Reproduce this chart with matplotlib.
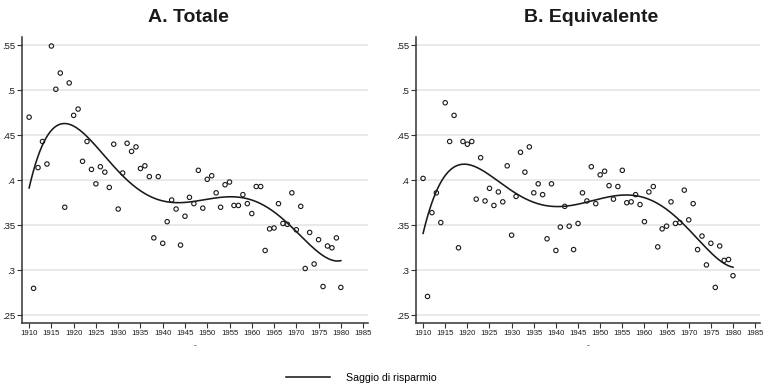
import numpy as np
import matplotlib
matplotlib.use("Agg")
import matplotlib.pyplot as plt
from matplotlib.lines import Line2D

plt.rcParams['font.family'] = ['Liberation Sans', 'DejaVu Sans']

years = list(range(1910, 1981))

totale = [
    0.470, 0.280, 0.414, 0.443, 0.418, 0.549, 0.501, 0.519, 0.370, 0.508,
    0.472, 0.479, 0.421, 0.443, 0.412, 0.396, 0.415, 0.409, 0.392, 0.440,
    0.368, 0.408, 0.441, 0.432, 0.437, 0.413, 0.416, 0.404, 0.336, 0.404,
    0.330, 0.354, 0.378, 0.368, 0.328, 0.360, 0.381, 0.374, 0.411, 0.369,
    0.401, 0.405, 0.386, 0.370, 0.395, 0.398, 0.372, 0.372, 0.384, 0.374,
    0.363, 0.393, 0.393, 0.322, 0.346, 0.347, 0.374, 0.352, 0.351, 0.386,
    0.345, 0.371, 0.302, 0.342, 0.307, 0.334, 0.282, 0.327, 0.325, 0.336,
    0.281,
]

equivalente = [
    0.402, 0.271, 0.364, 0.386, 0.353, 0.486, 0.443, 0.472, 0.325, 0.443,
    0.440, 0.443, 0.379, 0.425, 0.377, 0.391, 0.372, 0.387, 0.376, 0.416,
    0.339, 0.382, 0.431, 0.409, 0.437, 0.386, 0.396, 0.384, 0.335, 0.396,
    0.322, 0.348, 0.371, 0.349, 0.323, 0.352, 0.386, 0.377, 0.415, 0.374,
    0.406, 0.410, 0.394, 0.379, 0.393, 0.411, 0.375, 0.376, 0.384, 0.373,
    0.354, 0.387, 0.393, 0.326, 0.346, 0.349, 0.376, 0.352, 0.353, 0.389,
    0.356, 0.374, 0.323, 0.338, 0.306, 0.330, 0.281, 0.327, 0.311, 0.312,
    0.294,
]

titles = ["A. Totale", "B. Equivalente"]
series = [totale, equivalente]
xticks = list(range(1910, 1986, 5))
yticks = [0.25, 0.3, 0.35, 0.4, 0.45, 0.5, 0.55]
ytick_labels = [".25", ".3", ".35", ".4", ".45", ".5", ".55"]
legend_label = "Saggio di risparmio"

fig = plt.figure(figsize=(7.75, 3.89), dpi=100)
fig.patch.set_facecolor("white")

axes_rects = [
    [22 / 775, 1 - 323 / 389, 346 / 775, 286 / 389],
    [416 / 775, 1 - 323 / 389, 344 / 775, 286 / 389],
]
title_x = [188 / 775, 591 / 775]

x = np.array(years, dtype=float)
for rect, title, vals, tx in zip(axes_rects, titles, series, title_x):
    ax = fig.add_axes(rect)
    y = np.array(vals)

    # polynomial trend of the saving rate
    poly = np.polynomial.Polynomial.fit(x, y, 5)
    xf = np.linspace(x.min(), x.max(), 300)
    ax.plot(xf, poly(xf), color="#1a1a1a", lw=1.15, zorder=3)

    ax.scatter(x, y, s=10, facecolors="none", edgecolors="#1a1a1a",
               linewidths=0.8, zorder=4)

    ax.set_xlim(1908.4, 1986.1)
    ax.set_ylim(0.2415, 0.559)
    ax.set_xticks(xticks)
    ax.set_xticklabels([str(t) for t in xticks], fontsize=5.6)
    ax.set_yticks(yticks)
    ax.set_yticklabels(ytick_labels, fontsize=6.8)
    ax.grid(axis="y", color="#e3e3e3", lw=1.1, zorder=0)
    ax.set_axisbelow(True)
    for s in ["top", "right"]:
        ax.spines[s].set_visible(False)
    for s in ["left", "bottom"]:
        ax.spines[s].set_color("#333333")
        ax.spines[s].set_linewidth(1.1)
    ax.tick_params(axis="both", direction="out", color="#333333",
                   length=3.5, width=0.8, pad=1.5, labelcolor="#1a1a1a")
    ax.set_xlabel("-", fontsize=6, labelpad=4, color="#1a1a1a")
    fig.text(tx, 1 - 17 / 389, title, fontsize=14, fontweight="bold",
             ha="center", va="center", color="#1a1a1a")

handle = Line2D([], [], color="#1a1a1a", lw=1.15)
fig.legend(handles=[handle], labels=[legend_label], loc="center",
           bbox_to_anchor=(361 / 775, 1 - 378 / 389), frameon=False,
           fontsize=7.6, handlelength=4.2, handletextpad=1.5,
           borderpad=0.1)

fig.savefig("out.png", dpi=100, facecolor="white")
